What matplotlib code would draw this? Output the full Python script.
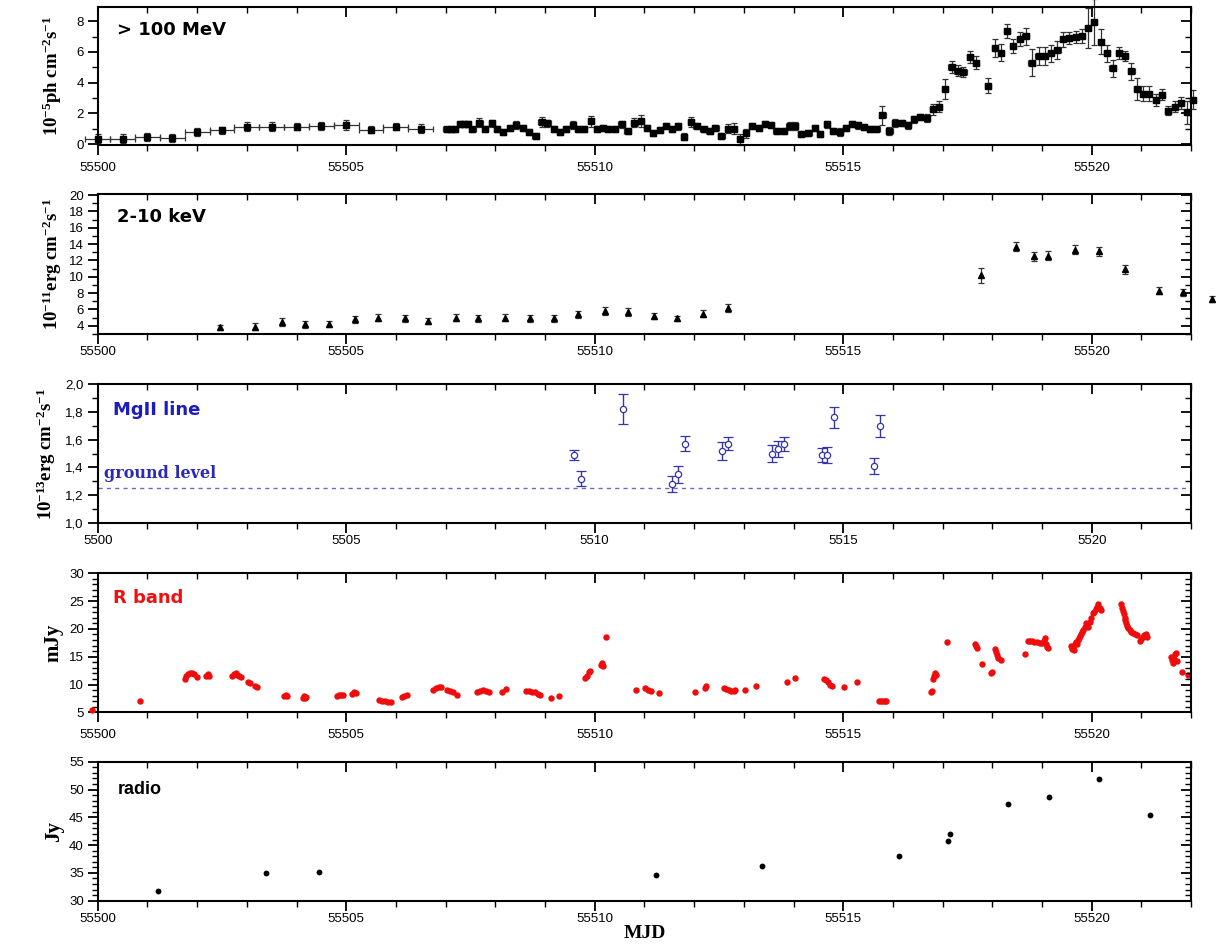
import matplotlib
matplotlib.use('Agg')
import matplotlib.pyplot as plt
from matplotlib.ticker import MultipleLocator, FuncFormatter

plt.rcParams['font.family'] = ['Liberation Sans', 'DejaVu Sans']
plt.rcParams['mathtext.fontset'] = 'custom'
plt.rcParams['mathtext.rm'] = 'Liberation Serif:bold'
plt.rcParams['mathtext.it'] = 'Liberation Serif:bold'
plt.rcParams['mathtext.bf'] = 'Liberation Serif:bold'

# ---------------- data ----------------
# Fermi > 100 MeV, 12-h bins
gamma_t1 = [55500.0, 55500.5, 55501.0, 55501.5, 55502.0, 55502.5, 55503.0,
            55503.5, 55504.0, 55504.5, 55505.0, 55505.5, 55506.0, 55506.5]
gamma_v1 = [0.35, 0.35, 0.45, 0.40, 0.80, 0.90, 1.15, 1.15, 1.15, 1.20, 1.25, 0.95, 1.15, 1.00]
gamma_e1 = [0.30, 0.30, 0.25, 0.25, 0.25, 0.25, 0.30, 0.30, 0.25, 0.25, 0.30, 0.25, 0.25, 0.30]
# Fermi > 100 MeV, 3-h bins
gamma_t2 = [55507.02, 55507.10, 55507.18, 55507.29, 55507.37, 55507.45, 55507.54, 55507.68, 55507.80, 55507.93,
            55508.04, 55508.16, 55508.30, 55508.42, 55508.55, 55508.68, 55508.81, 55508.93, 55509.05, 55509.18,
            55509.30, 55509.42, 55509.56, 55509.67, 55509.79, 55509.92, 55510.04, 55510.16, 55510.27, 55510.41,
            55510.54, 55510.66, 55510.80, 55510.93, 55511.06, 55511.18, 55511.31, 55511.43, 55511.55, 55511.67,
            55511.80, 55511.93, 55512.05, 55512.19, 55512.31, 55512.43, 55512.55, 55512.69, 55512.80, 55512.92,
            55513.04, 55513.17, 55513.31, 55513.43, 55513.55, 55513.66, 55513.80, 55513.92, 55514.03, 55514.16,
            55514.30, 55514.43, 55514.53, 55514.67, 55514.80,
            55514.93, 55515.06, 55515.17, 55515.30, 55515.42, 55515.54, 55515.67, 55515.79, 55515.93, 55516.04,
            55516.18, 55516.30, 55516.42, 55516.54, 55516.68, 55516.80, 55516.93, 55517.05, 55517.18, 55517.30,
            55517.42, 55517.55, 55517.67, 55517.92, 55518.05, 55518.18, 55518.30, 55518.42, 55518.56, 55518.67,
            55518.79, 55518.93, 55519.06, 55519.18, 55519.31, 55519.43, 55519.55, 55519.68, 55519.80, 55519.92,
            55520.05, 55520.18, 55520.30, 55520.42, 55520.55, 55520.67, 55520.80, 55520.92, 55521.04, 55521.16,
            55521.29, 55521.42, 55521.54, 55521.68, 55521.80, 55521.92, 55522.04]
gamma_v2 = [0.97, 0.97, 0.97, 1.29, 1.29, 1.29, 0.97, 1.40, 0.97, 1.35,
            0.97, 0.80, 1.08, 1.24, 1.08, 0.80, 0.54, 1.44, 1.35, 1.00,
            0.80, 1.00, 1.24, 1.00, 1.00, 1.50, 1.00, 1.08, 1.00, 1.00,
            1.29, 0.86, 1.40, 1.50, 1.08, 0.75, 0.93, 1.18, 0.97, 1.16,
            0.50, 1.44, 1.16, 0.97, 0.86, 1.08, 0.54, 1.00, 1.00, 0.33,
            0.70, 1.16, 1.08, 1.29, 1.24, 0.86, 0.86, 1.18, 1.18, 0.65,
            0.75, 1.08, 0.65, 1.29, 0.86,
            0.80, 1.08, 1.29, 1.22, 1.14, 1.01, 1.01, 1.87, 0.86, 1.40,
            1.40, 1.22, 1.61, 1.79, 1.72, 2.26, 2.43, 3.59, 5.01, 4.77,
            4.69, 5.66, 5.31, 3.81, 6.24, 5.96, 7.38, 6.39, 6.82, 7.03,
            5.31, 5.74, 5.74, 5.91, 6.13, 6.82, 6.92, 6.95, 7.03, 7.53,
            7.96, 6.67, 5.91, 4.95, 5.91, 5.74, 4.73, 3.59, 3.29, 3.29,
            2.86, 3.23, 2.19, 2.43, 2.69, 2.09, 2.90]
gamma_e2 = [0.15, 0.15, 0.15, 0.20, 0.20, 0.20, 0.15, 0.30, 0.20, 0.25,
            0.20, 0.20, 0.20, 0.25, 0.20, 0.20, 0.20, 0.30, 0.20, 0.20,
            0.20, 0.20, 0.25, 0.20, 0.20, 0.35, 0.20, 0.20, 0.20, 0.20,
            0.25, 0.20, 0.30, 0.40, 0.20, 0.20, 0.20, 0.20, 0.20, 0.25,
            0.20, 0.35, 0.20, 0.20, 0.20, 0.20, 0.20, 0.30, 0.35, 0.35,
            0.30, 0.20, 0.20, 0.20, 0.20, 0.20, 0.20, 0.25, 0.25, 0.20,
            0.20, 0.20, 0.20, 0.25, 0.20,
            0.25, 0.20, 0.20, 0.20, 0.20, 0.20, 0.20, 0.60, 0.25, 0.25,
            0.20, 0.20, 0.25, 0.20, 0.25, 0.35, 0.35, 0.65, 0.40, 0.35,
            0.35, 0.40, 0.40, 0.50, 0.60, 0.55, 0.45, 0.45, 0.45, 0.55,
            0.90, 0.60, 0.60, 0.55, 0.60, 0.50, 0.40, 0.40, 0.45, 1.30,
            1.50, 0.80, 0.55, 0.55, 0.40, 0.35, 0.55, 0.70, 0.50, 0.50,
            0.40, 0.35, 0.30, 0.35, 0.40, 0.75, 0.60]

# 2-10 keV
xray_t = [55502.47, 55503.17, 55503.71, 55504.18, 55504.65, 55505.17, 55505.64, 55506.18, 55506.65, 55507.21,
          55507.65, 55508.20, 55508.70, 55509.19, 55509.66, 55510.20, 55510.67, 55511.19, 55511.66, 55512.18,
          55512.69, 55517.78, 55518.47, 55518.83, 55519.12, 55519.67, 55520.14, 55520.66, 55521.35, 55521.83,
          55522.42]
xray_v = [3.8, 3.9, 4.5, 4.2, 4.2, 4.8, 5.0, 4.9, 4.6, 5.0,
          4.9, 5.0, 4.9, 4.9, 5.4, 5.8, 5.7, 5.2, 4.9, 5.5,
          6.2, 10.2, 13.7, 12.5, 12.6, 13.3, 13.1, 10.9, 8.3, 8.1,
          7.3]
xray_e = [0.25, 0.45, 0.50, 0.45, 0.40, 0.40, 0.45, 0.45, 0.40, 0.45,
          0.40, 0.40, 0.40, 0.40, 0.40, 0.45, 0.45, 0.40, 0.35, 0.40,
          0.45, 0.90, 0.55, 0.55, 0.55, 0.55, 0.60, 0.50, 0.40, 0.40,
          0.35]

# MgII line
mg_t = [55509.59, 55509.73, 55510.56, 55511.56, 55511.67, 55511.81, 55512.57, 55512.69,
        55513.57, 55513.69, 55513.80, 55514.57, 55514.68, 55514.82, 55515.61, 55515.74]
mg_v = [1.49, 1.32, 1.82, 1.28, 1.35, 1.57, 1.52, 1.57, 1.50, 1.53, 1.57, 1.49, 1.49, 1.76, 1.41, 1.70]
mg_e = [0.037, 0.057, 0.105, 0.055, 0.060, 0.055, 0.066, 0.046, 0.060, 0.057, 0.050, 0.050,
        0.057, 0.075, 0.059, 0.080]
mg_ground = 1.25

# R band
r_t = [55499.89, 55500.86, 55501.76, 55501.78, 55501.82, 55501.86, 55501.90, 55501.94, 55502.00, 55502.18,
       55502.22, 55502.24, 55502.70, 55502.74, 55502.78, 55502.81, 55502.85, 55502.88, 55503.03, 55503.06,
       55503.17, 55503.20, 55503.75, 55503.78, 55503.80, 55504.13, 55504.16, 55504.18, 55504.20, 55504.82,
       55504.86, 55504.90, 55504.94, 55505.11, 55505.15, 55505.19, 55505.66, 55505.72, 55505.79, 55505.85,
       55505.90, 55506.12, 55506.17, 55506.22, 55506.75, 55506.80, 55506.86, 55506.90, 55507.02, 55507.08,
       55507.14, 55507.22, 55507.64, 55507.70, 55507.75, 55507.82, 55507.88, 55508.14, 55508.22, 55508.62,
       55508.68, 55508.73, 55508.80, 55508.86, 55508.90, 55509.12, 55509.28, 55509.80, 55509.84, 55509.88,
       55509.91, 55510.12, 55510.14, 55510.16, 55510.23, 55510.83, 55511.02, 55511.08, 55511.14, 55511.30,
       55512.02, 55512.22, 55512.24, 55512.60, 55512.65, 55512.70, 55512.75, 55512.80, 55512.83, 55513.03,
       55513.25, 55513.86, 55514.03, 55514.62, 55514.66, 55514.70, 55514.74, 55514.77, 55515.02, 55515.28,
       55515.72, 55515.76, 55515.80, 55515.84, 55515.87, 55516.76, 55516.78, 55516.80, 55516.82, 55516.84,
       55516.86, 55517.09, 55517.65, 55517.67, 55517.69, 55517.79, 55517.97, 55518.00, 55518.05, 55518.07,
       55518.09, 55518.12, 55518.17, 55518.66, 55518.72, 55518.76, 55518.80, 55518.84, 55518.90, 55518.96,
       55519.00, 55519.04, 55519.06, 55519.08, 55519.10, 55519.12, 55519.58, 55519.60, 55519.62, 55519.64,
       55519.66, 55519.68, 55519.70, 55519.72, 55519.74, 55519.76, 55519.78, 55519.80, 55519.83, 55519.86,
       55519.88, 55519.90, 55519.93, 55519.96, 55519.99, 55520.02, 55520.05, 55520.08, 55520.11, 55520.13,
       55520.16, 55520.18, 55520.58, 55520.60, 55520.62, 55520.64, 55520.66, 55520.68, 55520.70, 55520.72,
       55520.74, 55520.77, 55520.80, 55520.84, 55520.88, 55520.92, 55520.98, 55521.00, 55521.03, 55521.06,
       55521.09, 55521.12, 55521.60, 55521.62, 55521.64, 55521.66, 55521.68, 55521.70, 55521.72, 55521.82,
       55521.94]
r_v = [5.5, 7.05, 11.0, 11.5, 11.8, 12.0, 12.0, 11.9, 11.4, 11.6,
       11.8, 11.6, 11.6, 11.9, 12.0, 11.7, 11.5, 11.3, 10.5, 10.3,
       9.7, 9.5, 8.0, 8.2, 7.9, 7.6, 7.9, 7.5, 7.8, 7.9,
       8.1, 8.2, 8.1, 8.3, 8.6, 8.4, 7.2, 7.1, 7.0, 6.9,
       6.8, 7.8, 8.0, 8.1, 9.1, 9.4, 9.6, 9.5, 9.1, 8.9,
       8.7, 8.1, 8.6, 8.9, 9.0, 8.9, 8.6, 8.7, 9.2, 8.9,
       8.8, 8.7, 8.6, 8.3, 8.2, 7.6, 8.0, 11.2, 11.6, 12.2,
       12.4, 13.5, 13.8, 13.3, 18.6, 9.0, 9.3, 9.0, 8.9, 8.4,
       8.7, 9.4, 9.7, 9.3, 9.2, 9.1, 8.9, 8.9, 9.0, 9.1,
       9.75, 10.5, 11.2, 11.0, 10.8, 10.5, 10.0, 9.8, 9.6, 10.5,
       7.1, 7.0, 7.0, 7.0, 7.1, 8.6, 8.9, 11.0, 11.5, 12.0,
       11.7, 17.6, 17.3, 16.9, 16.6, 13.7, 12.0, 12.3, 16.3, 15.8,
       15.3, 14.8, 14.4, 15.5, 17.9, 17.9, 17.8, 17.7, 17.6, 17.5,
       17.4, 17.9, 18.3, 17.2, 16.8, 16.6, 17.0, 16.4, 16.8, 16.2,
       17.2, 17.6, 17.2, 18.0, 18.4, 18.8, 19.0, 19.4, 19.8, 20.4,
       21.0, 20.8, 20.4, 21.2, 22.0, 22.8, 23.0, 23.6, 24.0, 24.4,
       23.8, 23.4, 24.4, 23.8, 23.2, 22.6, 22.0, 21.6, 21.0, 20.6,
       20.2, 19.8, 19.4, 19.2, 19.0, 18.9, 17.8, 18.2, 18.6, 18.9,
       19.0, 18.6, 15.0, 14.4, 13.9, 14.6, 15.4, 15.7, 14.2, 12.3,
       11.7]

# radio
radio_t = [55501.22, 55503.39, 55504.46, 55511.24, 55513.36, 55516.12, 55517.11, 55517.15,
           55518.31, 55519.15, 55520.14, 55521.17]
radio_v = [31.8, 34.9, 35.1, 34.6, 36.2, 38.0, 40.7, 42.0, 47.4, 48.7, 51.8, 45.5]

# ---------------- figure ----------------
W, H = 1228, 944
fig = plt.figure(figsize=(W / 100, H / 100), dpi=100)
LEFT_PX, WIDTH_PX = 97.7, 1093.4


def panel(top_px, bottom_px):
    return fig.add_axes([LEFT_PX / W, 1 - bottom_px / H, WIDTH_PX / W, (bottom_px - top_px) / H])


def style(ax, ylim, ymaj, ymin, xfmt=None, yfmt=None, xpad=4):
    ax.set_xlim(55500, 55522)
    ax.set_ylim(*ylim)
    ax.xaxis.set_major_locator(MultipleLocator(5))
    ax.xaxis.set_minor_locator(MultipleLocator(1))
    ax.yaxis.set_major_locator(MultipleLocator(ymaj))
    ax.yaxis.set_minor_locator(MultipleLocator(ymin))
    ax.tick_params(which='major', direction='out', length=7, width=1.3, labelsize=9.5, pad=3)
    ax.tick_params(which='minor', direction='out', length=4, width=1.0)
    ax.tick_params(axis='x', which='major', pad=xpad)
    if xfmt is not None:
        ax.xaxis.set_major_formatter(FuncFormatter(xfmt))
    else:
        ax.xaxis.set_major_formatter(FuncFormatter(lambda v, p: '%d' % round(v)))
    if yfmt is not None:
        ax.yaxis.set_major_formatter(FuncFormatter(yfmt))
    for s in ax.spines.values():
        s.set_linewidth(1.5)
    # top axis, inward ticks
    axt = ax.twiny()
    axt.set_xlim(ax.get_xlim())
    axt.xaxis.set_major_locator(MultipleLocator(5))
    axt.xaxis.set_minor_locator(MultipleLocator(1))
    axt.tick_params(which='major', direction='in', length=7, width=1.3, labeltop=False)
    axt.tick_params(which='minor', direction='in', length=4, width=1.0)
    for s in axt.spines.values():
        s.set_visible(False)
    # right axis, inward ticks
    axr = ax.twinx()
    axr.set_ylim(ax.get_ylim())
    axr.yaxis.set_major_locator(MultipleLocator(ymaj))
    axr.yaxis.set_minor_locator(MultipleLocator(ymin))
    axr.tick_params(which='major', direction='in', length=7, width=1.3, labelright=False)
    axr.tick_params(which='minor', direction='in', length=4, width=1.0)
    for s in axr.spines.values():
        s.set_visible(False)


def ylab(ax, text, size=13.5, x=-0.031):
    ax.set_ylabel(text, fontfamily='Liberation Serif', fontweight='bold', fontsize=size)
    ax.yaxis.set_label_coords(x, 0.5)


int_fmt = lambda v, p: '%d' % round(v)
LABEL_FONT = ['DejaVu Sans']

# Panel 1: > 100 MeV
ax1 = panel(7.3, 145)
ax1.errorbar(gamma_t1, gamma_v1, yerr=gamma_e1, xerr=0.25, fmt='s', ms=4.5, color='black',
             ecolor='#333333', elinewidth=0.9, capsize=2.5, capthick=0.9, clip_on=False)
ax1.errorbar(gamma_t2, gamma_v2, yerr=gamma_e2, xerr=0.0625, fmt='s', ms=4.5, color='black',
             ecolor='#333333', elinewidth=0.9, capsize=2.5, capthick=0.9, clip_on=False)
style(ax1, (-0.05, 8.9), 2, 1, yfmt=int_fmt, xpad=5)
ylab(ax1, '10$^{-5}$ph cm$^{-2}$s$^{-1}$')
ax1.text(0.018, 0.835, '> 100 MeV', transform=ax1.transAxes, fontsize=13, fontweight='bold',
         fontfamily=LABEL_FONT, va='center', ha='left')

# Panel 2: 2-10 keV
ax2 = panel(193.5, 334)
ax2.errorbar(xray_t, xray_v, yerr=xray_e, fmt='^', ms=5, color='black', ecolor='#333333',
             elinewidth=0.9, capsize=2.5, capthick=0.9, clip_on=False)
style(ax2, (3.0, 20.2), 2, 1, yfmt=int_fmt, xpad=1.5)
ylab(ax2, '10$^{-11}$erg cm$^{-2}$s$^{-1}$')
ax2.text(0.018, 0.833, '2-10 keV', transform=ax2.transAxes, fontsize=13, fontweight='bold',
         fontfamily=LABEL_FONT, va='center', ha='left')

# Panel 3: MgII line
blue = '#3535a8'
ax3 = panel(384, 523)
ax3.axhline(mg_ground, color='#6a6ac8', lw=1.0, ls=(0, (3, 3)))
ax3.errorbar(mg_t, mg_v, yerr=mg_e, fmt='o', ms=4.5, mfc='white', mec=blue, mew=0.9,
             ecolor=blue, elinewidth=1.0, capsize=3.5, capthick=1.0)
style(ax3, (1.0, 2.0), 0.2, 0.1,
      xfmt=lambda v, p: '%d' % (round(v) - 50000),
      yfmt=lambda v, p: ('%.1f' % v).replace('.', ','), xpad=2)
ylab(ax3, '10$^{-13}$erg cm$^{-2}$s$^{-1}$', x=-0.036)
ax3.text(0.014, 0.81, 'MgII line', transform=ax3.transAxes, fontsize=13, fontweight='bold',
         fontfamily=LABEL_FONT, color='#1c1cc0', va='center', ha='left')
ax3.text(0.006, 0.355, 'ground level', transform=ax3.transAxes, fontsize=11.5, fontweight='bold',
         fontfamily=['DejaVu Serif'], color='#2a2ab8', va='center', ha='left')

# Panel 4: R band
ax4 = panel(573.3, 712.3)
ax4.plot(r_t, r_v, 'o', ms=4.6, color='#f00c0c', mec='none', clip_on=False)
style(ax4, (5, 30), 5, 1, yfmt=int_fmt, xpad=5)
ylab(ax4, 'mJy', size=15)
ax4.text(0.014, 0.82, 'R band', transform=ax4.transAxes, fontsize=13, fontweight='bold',
         fontfamily=LABEL_FONT, color='#f01010', va='center', ha='left')

# Panel 5: radio
ax5 = panel(761.7, 900.7)
ax5.plot(radio_t, radio_v, 'o', ms=4.2, color='black', mec='none')
style(ax5, (30, 55), 5, 1, yfmt=int_fmt, xpad=1.5)
ylab(ax5, 'Jy', size=15)
ax5.set_xlabel('MJD', fontfamily='Liberation Serif', fontweight='bold', fontsize=14, labelpad=0)
ax5.text(0.018, 0.80, 'radio', transform=ax5.transAxes, fontsize=13, fontweight='bold',
         va='center', ha='left')

fig.savefig('out.png', dpi=100)
